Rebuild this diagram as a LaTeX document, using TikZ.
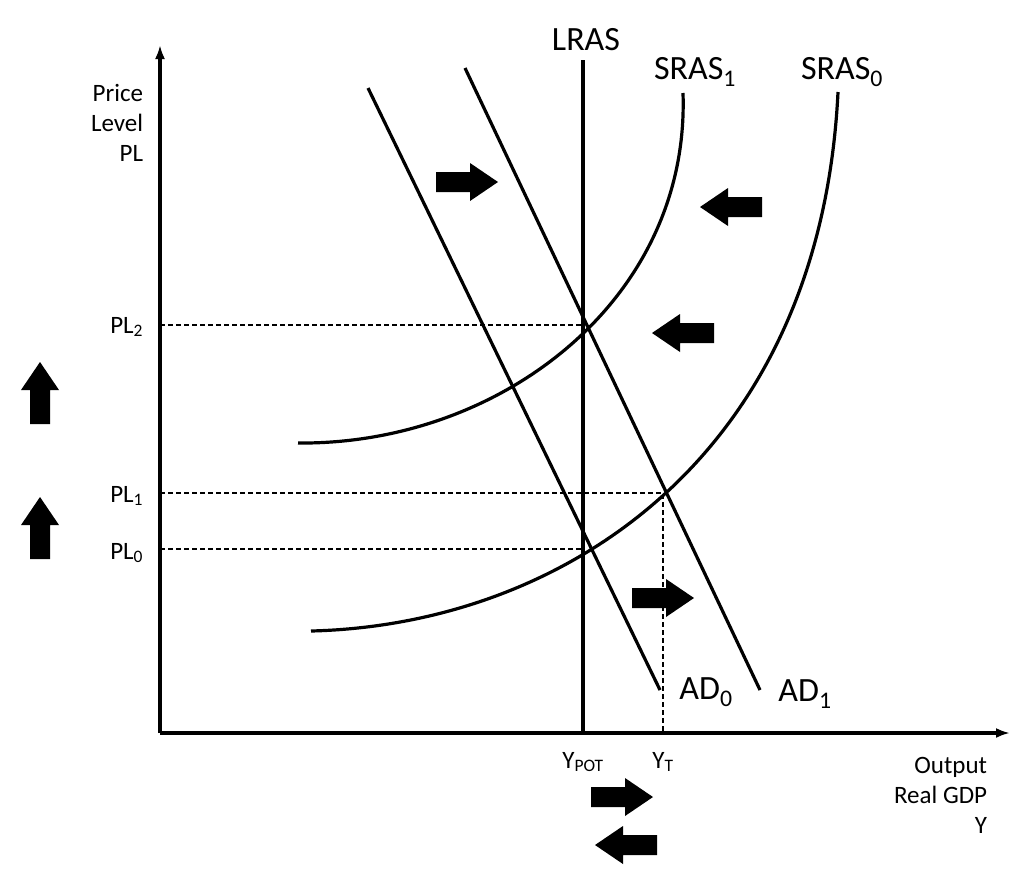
\documentclass[tikz,border=0pt]{standalone}
\usepackage{fontspec}
\setmainfont{Carlito}
\usetikzlibrary{arrows.meta,positioning}
\tikzset{
  fatarrow/.pic={\fill (-31,-10) -- (3,-10) -- (3,-19) -- (31,0) -- (3,19) -- (3,10) -- (-31,10) -- cycle;},
  lbl/.style={font=\fontsize{25}{30}\selectfont},
  biglbl/.style={font=\fontsize{34}{40}\selectfont},
  guide/.style={dashed,line width=1.1pt,dash pattern=on 5pt off 3pt}
}
\begin{document}
\begin{tikzpicture}[x=1pt,y=-1pt,>={Latex[length=14pt,width=10pt]},line width=3.2pt]
  \useasboundingbox (0,0) rectangle (1024,871);

  % axes
  \coordinate (O) at (160,733);
  \coordinate (ytop) at (160,45);
  \coordinate (xend) at (1010,733);
  \draw[->,line width=3.6pt] (O) -- (ytop);
  \draw[->,line width=3.6pt] (O) -- (xend);

  % LRAS
  \coordinate (lrasB) at (583,733);
  \node[biglbl] (lras) at (586,40) {LRAS};
  \draw (lrasB) -- (583,60);

  % AD curves
  \coordinate (ad0a) at (368,88);
  \coordinate (ad0b) at (660,690);
  \coordinate (ad1a) at (465,68);
  \coordinate (ad1b) at (760,690);
  \draw (ad0a) -- (ad0b);
  \draw (ad1a) -- (ad1b);
  \node[biglbl] (ad0) at (706,692) {AD\textsubscript{0}};
  \node[biglbl] (ad1) at (805,694) {AD\textsubscript{1}};

  % SRAS curves
  \coordinate (s1a) at (298,443);
  \coordinate (s1b) at (683,93);
  \coordinate (s0a) at (311,631);
  \coordinate (s0b) at (838,92);
  \draw (s1a) .. controls (500,445) and (690,300) .. (s1b);
  \draw (s0a) .. controls (560,625) and (820,460) .. (s0b);
  \node[biglbl] (sras1) at (695,72) {SRAS\textsubscript{1}};
  \node[biglbl] (sras0) at (842,72) {SRAS\textsubscript{0}};

  % equilibria and guides
  \coordinate (e2) at (583,325);
  \coordinate (e1) at (663,493);
  \coordinate (e0) at (583,549);
  \coordinate (yt) at (663,733);
  \draw[guide] (160,325) -- (e2);
  \draw[guide] (160,493) -- (e1) -- (yt);
  \draw[guide] (160,549) -- (e0);

  % axis labels
  \node[lbl,align=right,anchor=east] (pl) at (148,123) {Price\\Level\\PL};
  \node[lbl,anchor=east] (pl2) at (148,327) {PL\textsubscript{2}};
  \node[lbl,anchor=east] (pl1) at (148,496) {PL\textsubscript{1}};
  \node[lbl,anchor=east] (pl0) at (148,553) {PL\textsubscript{0}};
  \node[lbl,align=right,anchor=east] (out) at (992,795) {Output\\Real GDP\\Y};
  \node[lbl] (ypot) at (583,762) {Y\textsubscript{POT}};
  \node[lbl] (ytl) at (663,762) {Y\textsubscript{T}};

  % shift arrows
  \pic at (467,182) {fatarrow};
  \pic at (663,598) {fatarrow};
  \pic at (622,797) {fatarrow};
  \pic[rotate=180] at (731,207) {fatarrow};
  \pic[rotate=180] at (683,333) {fatarrow};
  \pic[rotate=180] at (626,845) {fatarrow};
  \pic[rotate=90] at (40,393) {fatarrow};
  \pic[rotate=90] at (40,528) {fatarrow};
\end{tikzpicture}
\end{document}
